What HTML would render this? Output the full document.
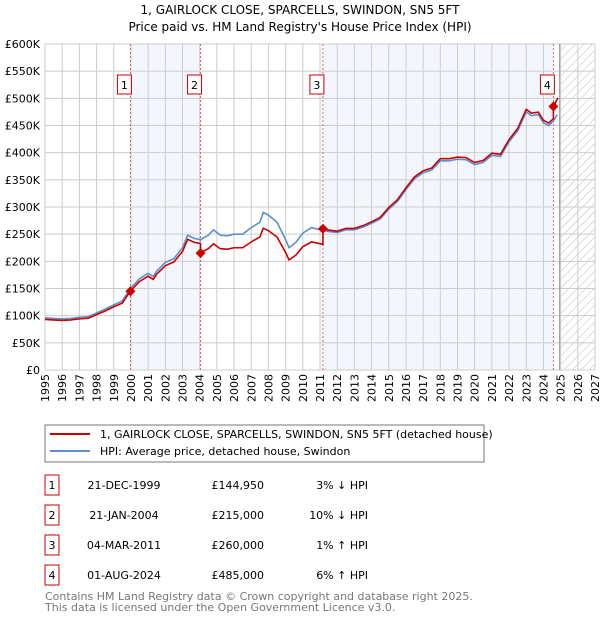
<!DOCTYPE html>
<html><head><meta charset="utf-8"><style>
body{margin:0;background:#fff;font-family:"DejaVu Sans","Liberation Sans",sans-serif;}
svg text{font-family:"DejaVu Sans","Liberation Sans",sans-serif;}
</style></head><body>
<svg id="c" width="600" height="620" xmlns="http://www.w3.org/2000/svg">
<defs><pattern id="hatch" width="6" height="6" patternUnits="userSpaceOnUse" patternTransform="rotate(45)"><line x1="0" y1="0" x2="0" y2="6" stroke="#bbb" stroke-width="1"/></pattern></defs>
<text x="300" y="14" text-anchor="middle" font-size="12">1, GAIRLOCK CLOSE, SPARCELLS, SWINDON, SN5 5FT</text>
<text x="300" y="31" text-anchor="middle" font-size="12">Price paid vs. HM Land Registry's House Price Index (HPI)</text>
<g id="plot"></g>
<g>
<rect x="45" y="425" width="439" height="37" fill="#fff" stroke="#777"/>
<line x1="50" y1="434" x2="90" y2="434" stroke="#cc0000" stroke-width="2"/>
<text x="100" y="438" font-size="11">1, GAIRLOCK CLOSE, SPARCELLS, SWINDON, SN5 5FT (detached house)</text>
<line x1="50" y1="451" x2="90" y2="451" stroke="#5b8fd0" stroke-width="2"/>
<text x="100" y="455" font-size="11">HPI: Average price, detached house, Swindon</text>
</g>
<g id="table"></g>
<text x="45" y="600" font-size="11" fill="#777">Contains HM Land Registry data © Crown copyright and database right 2025.</text>
<text x="45" y="611" font-size="11" fill="#777">This data is licensed under the Open Government Licence v3.0.</text>
</svg>
<script>
const hpiYears=[1995,1995.5,1996,1996.5,1997,1997.5,1998,1998.5,1999,1999.5,1999.97,2000.5,2001,2001.3,2001.5,2002,2002.5,2003,2003.3,2003.7,2004.05,2004.5,2004.8,2005.2,2005.6,2006,2006.5,2007,2007.5,2007.7,2008,2008.5,2009,2009.2,2009.6,2010,2010.5,2011.17,2011.5,2012,2012.5,2013,2013.5,2014,2014.5,2015,2015.5,2016,2016.5,2017,2017.5,2018,2018.5,2019,2019.5,2020,2020.5,2021,2021.5,2022,2022.5,2023,2023.3,2023.7,2024,2024.3,2024.58,2024.8];
const hpiValues=[96,95,94,95,97,98,105,112,120,127,150,168,178,172,182,198,205,225,248,242,240,248,258,248,247,250,250,262,272,290,285,272,240,225,235,252,262,257,255,253,258,258,263,270,278,296,310,332,352,363,368,385,385,388,387,378,382,395,393,420,440,475,468,470,455,450,458,470];
const saleYears=[1999.97,2004.05,2011.17,2024.58];
const salePrices=[144950,215000,260000,485000];
const saleRatios=[0.97,0.90,1.01,1.06];
const saleDates=["21-DEC-1999","21-JAN-2004","04-MAR-2011","01-AUG-2024"];
const salePriceLabels=["£144,950","£215,000","£260,000","£485,000"];
const saleHpiLabels=["3% ↓ HPI","10% ↓ HPI","1% ↑ HPI","6% ↑ HPI"];
const yTicks=[0,50,100,150,200,250,300,350,400,450,500,550,600];
const yTickLabels=["£0","£50K","£100K","£150K","£200K","£250K","£300K","£350K","£400K","£450K","£500K","£550K","£600K"];
const xTicks=[1995,1996,1997,1998,1999,2000,2001,2002,2003,2004,2005,2006,2007,2008,2009,2010,2011,2012,2013,2014,2015,2016,2017,2018,2019,2020,2021,2022,2023,2024,2025,2026,2027];
const forecastStart=2025.0;

const NS="http://www.w3.org/2000/svg";
const L=45,R=595,T=44,B=370;
const xs=y=>L+(y-1995)/(2027-1995)*(R-L);
const ys=v=>B-v/600*(B-T);
function mk(tag,attrs,parent){const e=document.createElementNS(NS,tag);for(const k in attrs)e.setAttribute(k,attrs[k]);parent.appendChild(e);return e;}
const g=document.getElementById('plot');
// shaded ranges
for(const [a,b] of [[0,1],[2,3]]){
 const r=mk('rect',{x:xs(saleYears[a]),y:T,width:xs(saleYears[b])-xs(saleYears[a]),height:B-T,fill:'#eef3fc',opacity:0.7},g);
 
 
}
const hr=mk('rect',{x:xs(forecastStart),y:T,width:R-xs(forecastStart),height:B-T,fill:'url(#hatch)'},g);


// grid
yTicks.forEach((t,i)=>{
 const l=mk('line',{x1:L,x2:R,y1:ys(t),y2:ys(t),stroke:'#ccc'},g);
 
 
 const tx=mk('text',{x:40,y:ys(t)+4,'text-anchor':'end','font-size':11},g);
 tx.textContent=yTickLabels[i];
 
 
});
xTicks.forEach(t=>{
 const l=mk('line',{x1:xs(t),x2:xs(t),y1:T,y2:B,stroke:'#ccc'},g);
 
 
 const tx=mk('text',{x:0,y:0,'text-anchor':'end','font-size':11,transform:`translate(${xs(t)+4},${B+4}) rotate(-90)`},g);
 tx.textContent=t;
 
 
});
const fl=mk('line',{x1:xs(forecastStart)-1,x2:xs(forecastStart)-1,y1:T,y2:B,stroke:'#999'},g);


// sale vlines
saleYears.forEach((y,i)=>{
 const l=mk('line',{x1:xs(y),x2:xs(y),y1:T,y2:B,stroke:'#e06060','stroke-dasharray':'2,2'},g);
 
 
 const bx=mk('rect',{x:xs(y)-13,y:75,width:14,height:19,fill:'#fff',stroke:'#cc0000'},g);
 
 
 const tx=mk('text',{x:xs(y)-6,y:89,'text-anchor':'middle','font-size':11},g);
 tx.textContent=i+1;
 
 
});
// hpi line
const hp=mk('path',{d:hpiYears.map((y,i)=>(i?'L':'M')+xs(y)+','+ys(hpiValues[i])).join(''),fill:'none',stroke:'#5b8fd0','stroke-width':1.6},g);


// red line
function ratioAt(y){let r=saleRatios[0];for(let i=0;i<saleYears.length;i++)if(y>=saleYears[i]-1e-6)r=saleRatios[i];return r;}
let d='';
hpiYears.forEach((y,i)=>{
 const idx=saleYears.findIndex(s=>Math.abs(s-y)<1e-6);
 if(idx>0){const prev=saleRatios[idx-1];d+='L'+xs(y)+','+ys(hpiValues[i]*prev);}
 d+=(i?'L':'M')+xs(y)+','+ys(hpiValues[i]*ratioAt(y));
});
d+='L'+xs(2024.85)+','+ys(470*1.06*1.005);
const rp=mk('path',{d:d,fill:'none',stroke:'#cc0000','stroke-width':1.6},g);


saleYears.forEach((y,i)=>{
 const cx=xs(y),cy=ys(salePrices[i]/1000);
 const p=mk('polygon',{points:`${cx},${cy-5} ${cx+5},${cy} ${cx},${cy+5} ${cx-5},${cy}`,fill:'#cc0000'},g);
 
 
});
// table
const tb=document.getElementById('table');
saleDates.forEach((dt,i)=>{
 const cy=485+i*30;
 const b=mk('rect',{x:45,y:cy-10,width:14,height:20,fill:'#fff',stroke:'#cc0000'},tb);
 
 
 const n=mk('text',{x:52,y:cy+4,'text-anchor':'middle','font-size':11},tb);n.textContent=i+1;
 
 
 const a=mk('text',{x:124,y:cy+4,'text-anchor':'middle','font-size':11},tb);a.textContent=dt;
 
 
 const p=mk('text',{x:264,y:cy+4,'text-anchor':'end','font-size':11},tb);p.textContent=salePriceLabels[i];
 
 
 const h=mk('text',{x:368,y:cy+4,'text-anchor':'end','font-size':11},tb);h.textContent=saleHpiLabels[i];
 
 
});
</script>
</body></html>
